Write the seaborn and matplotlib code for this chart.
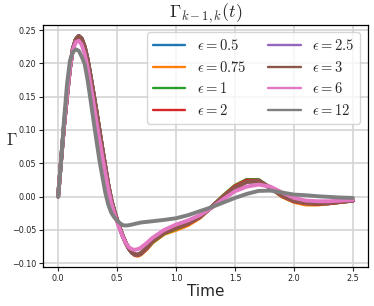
import pandas as pd
import matplotlib
matplotlib.use('Agg')
import matplotlib.pyplot as plt
import seaborn as sns

# time grid
t = [0, 0.025, 0.05, 0.075, 0.1, 0.125, 0.15, 0.175, 0.2, 0.225, 0.25, 0.275, 0.3,
     0.325, 0.35, 0.375, 0.4, 0.425, 0.45, 0.475, 0.5, 0.525, 0.55, 0.575, 0.6,
     0.625, 0.65, 0.675, 0.7, 0.75, 0.8, 0.9, 1.0, 1.1, 1.2, 1.3, 1.4, 1.5, 1.6,
     1.7, 1.8, 1.9, 2.0, 2.1, 2.2, 2.3, 2.4, 2.5]

eps_labels = ['0.5', '0.75', '1', '2', '2.5', '3', '6', '12']

g_05 = [0, .054, .106, .150, .192, .222, .236, .241, .237, .225, .206, .181, .155,
        .128, .100, .072, .045, .018, -.004, -.021, -.035, -.048, -.060, -.070, -.078,
        -.084, -.087, -.088, -.086, -.078, -.068, -.055, -.048, -.041, -.031, -.016,
        .000, .015, .024, .024, .013, .001, -.007, -.010, -.011, -.010, -.008, -.006]
g_075 = [0, .054, .106, .150, .192, .222, .236, .241, .237, .225, .206, .181, .155,
         .128, .100, .072, .045, .018, -.004, -.021, -.035, -.048, -.060, -.070, -.078,
         -.084, -.088, -.089, -.087, -.079, -.069, -.056, -.050, -.043, -.032, -.016,
         .001, .016, .025, .024, .013, .000, -.008, -.012, -.012, -.010, -.008, -.006]
g_1 = [0, .054, .106, .150, .192, .222, .236, .241, .237, .225, .206, .181, .155,
       .128, .100, .072, .045, .018, -.004, -.021, -.035, -.048, -.060, -.070, -.078,
       -.084, -.087, -.088, -.086, -.078, -.068, -.055, -.048, -.041, -.031, -.016,
       .001, .016, .025, .025, .013, .001, -.007, -.010, -.011, -.010, -.008, -.006]
g_2 = [0, .054, .106, .150, .192, .222, .236, .241, .237, .225, .206, .181, .155,
       .128, .100, .072, .045, .018, -.004, -.021, -.035, -.048, -.060, -.070, -.078,
       -.084, -.087, -.088, -.086, -.078, -.067, -.054, -.047, -.041, -.031, -.016,
       .000, .015, .024, .024, .013, .001, -.007, -.010, -.011, -.010, -.008, -.006]
g_25 = [0, .054, .106, .150, .192, .222, .236, .241, .237, .225, .206, .181, .155,
        .128, .100, .072, .045, .018, -.004, -.021, -.035, -.048, -.060, -.070, -.078,
        -.084, -.087, -.087, -.085, -.077, -.066, -.053, -.046, -.040, -.030, -.016,
        -.001, .013, .022, .023, .013, .002, -.006, -.009, -.010, -.009, -.007, -.006]
g_3 = [0, .054, .106, .150, .192, .222, .236, .241, .237, .225, .206, .181, .155,
       .128, .100, .072, .045, .018, -.004, -.021, -.035, -.048, -.060, -.070, -.078,
       -.084, -.087, -.087, -.085, -.077, -.066, -.053, -.046, -.040, -.030, -.016,
       -.001, .013, .022, .023, .013, .002, -.006, -.009, -.010, -.009, -.007, -.006]
g_6 = [0, .055, .108, .152, .193, .220, .232, .234, .228, .214, .194, .168, .141,
       .113, .086, .060, .035, .011, -.009, -.025, -.038, -.050, -.061, -.070, -.076,
       -.079, -.080, -.079, -.077, -.070, -.062, -.050, -.042, -.036, -.028, -.017,
       -.004, .008, .015, .018, .015, .006, -.002, -.006, -.007, -.007, -.006, -.005]
g_12 = [0, .054, .115, .168, .204, .217, .221, .219, .210, .199, .175, .145, .114,
        .084, .055, .030, .006, -.012, -.024, -.031, -.036, -.040, -.043, -.0435, -.043,
        -.042, -.041, -.040, -.039, -.038, -.037, -.035, -.0325, -.028, -.022, -.016,
        -.009, -.002, .004, .0085, .009, .006, .003, .002, .0005, -.0005, -.0015, -.002]

series = [g_05, g_075, g_1, g_2, g_25, g_3, g_6, g_12]

rows = []
for lab, vals in zip(eps_labels, series):
    for ti, v in zip(t, vals):
        rows.append({'Time': ti, 'Gamma': v, 'eps': r'$\epsilon = ' + lab + '$'})
df = pd.DataFrame(rows)

sns.set_theme(style='ticks', rc={'axes.grid': True, 'grid.color': '#d4d4d4',
                                 'grid.linewidth': 1.2, 'axes.edgecolor': 'black',
                                 'axes.linewidth': 0.9})
plt.rcParams['mathtext.fontset'] = 'cm'
plt.rcParams['font.family'] = ['DejaVu Sans']

fig, ax = plt.subplots(figsize=(3.74, 3.06), dpi=100)
fig.subplots_adjust(left=0.116, right=0.983, top=0.918, bottom=0.128)

sns.lineplot(data=df, x='Time', y='Gamma', hue='eps', palette='tab10',
             linewidth=2.8, ax=ax)

ax.set_xticks([0.0, 0.5, 1.0, 1.5, 2.0, 2.5])
ax.set_yticks([-0.10, -0.05, 0.0, 0.05, 0.10, 0.15, 0.20, 0.25])
ax.set_yticklabels(['\u22120.10', '\u22120.05', '0.00', '0.05', '0.10', '0.15', '0.20', '0.25'])
ax.tick_params(labelsize=5.8, length=3, width=0.8, pad=2, labelcolor='#222222')
ax.set_xlabel('Time', fontsize=11, labelpad=1)
ax.set_ylabel(r'$\Gamma$', fontsize=12, rotation=0, ha='center', va='center')
ax.yaxis.set_label_coords(-0.097, 0.525)
ax.set_title(r'$\Gamma_{k-1,k}(t)$', fontsize=13, pad=5)

leg = ax.legend(loc='upper right', ncol=2, fontsize=10.5, handlelength=2.2,
                labelspacing=0.45, columnspacing=1.5, handletextpad=0.8,
                borderpad=0.4)
for line in leg.get_lines():
    line.set_linewidth(1.7)

fig.savefig('out.png', dpi=100)
